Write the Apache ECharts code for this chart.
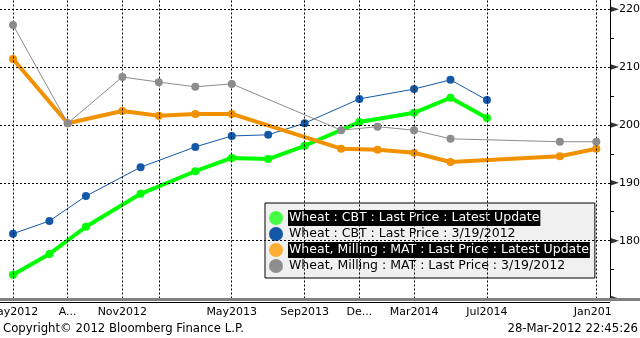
<!DOCTYPE html>
<html>
<head>
<meta charset="utf-8">
<script src="https://cdn.jsdelivr.net/npm/echarts@6/dist/echarts.min.js"></script>
<style>
  html, body { margin: 0; padding: 0; background: #fff; }
  #chart { width: 640px; height: 338px; }
</style>
</head>
<body>
<div id="chart"></div>
<script>
// Contract months (CBT wheat and MATIF milling wheat)
const cbtMonths = ["2012-05","2012-07","2012-09","2012-12","2013-03","2013-05","2013-07","2013-09","2013-12","2014-03","2014-05","2014-07"];
const matMonths = ["2012-05","2012-08","2012-11","2013-01","2013-03","2013-05","2013-11","2014-01","2014-03","2014-05","2014-11","2015-01"];

// Forward curves
const cbtLatest = [174.1,177.7,182.4,188.1,192.0,194.3,194.1,196.4,200.5,202.1,204.7,201.2];
const cbtMar19  = [181.2,183.4,187.7,192.7,196.2,198.1,198.3,200.3,204.5,206.2,207.8,204.3];
const matLatest = [211.4,200.3,202.4,201.6,201.9,201.9,195.9,195.7,195.2,193.6,194.6,195.9];
const matMar19  = [217.3,200.3,208.3,207.4,206.6,207.1,199.1,199.7,199.1,197.6,197.1,197.1];

// Axis ticks
const xTickMonths = ["2012-05","2012-08","2012-11","2013-01","2013-05","2013-09","2013-12","2014-03","2014-07","2015-01"];
const xTickLabels = ["May2012","A...","Nov2012","","May2013","Sep2013","De...","Mar2014","Jul2014","Jan2015"];
const yMajor = [170,180,190,200,210,220];
const yMinor = [175,185,195,205,215];
const yLabels = [180,190,200,210,220];

const seriesNames = [
  "Wheat : CBT : Last Price : Latest Update",
  "Wheat : CBT : Last Price : 3/19/2012",
  "Wheat, Milling : MAT : Last Price : Latest Update",
  "Wheat, Milling : MAT : Last Price : 3/19/2012"
];

// months since Jan 2012
function monthIndex(s) {
  const [y, m] = s.split('-').map(Number);
  return (y - 2012) * 12 + (m - 1);
}
const pair = (months, vals) => months.map((m, i) => [monthIndex(m), vals[i]]);

const X_MIN = 3.287, X_MAX = 36.75;
const FONT = 'DejaVu Sans';
const xTickVals = xTickMonths.map(monthIndex);
const labelOf = {};
xTickVals.forEach((v, i) => { labelOf[v] = xTickLabels[i]; });

const chart = echarts.init(document.getElementById('chart'), null, { renderer: 'canvas' });

const gridLines = [
  ...yLabels.map(v => ({ yAxis: v })),
  ...xTickVals.map(v => ({ xAxis: v }))
];

function lineSeries(name, data, color, width, z) {
  return {
    name, type: 'line', data, z,
    symbol: 'circle', symbolSize: 8, showSymbol: true,
    lineStyle: { color, width },
    itemStyle: { color },
    animation: false
  };
}

chart.setOption({
  animation: false,
  backgroundColor: '#fff',
  grid: { left: 0, right: 30, top: 0, bottom: 39.5, containLabel: false, outerBoundsMode: 'none' },
  xAxis: {
    type: 'value', min: X_MIN, max: X_MAX,
    axisLine: { show: false },
    axisTick: { show: false },
    splitLine: { show: false },
    axisLabel: {
      customValues: xTickVals,
      formatter: v => labelOf[v] ?? '',
      margin: 8, color: '#000', fontSize: 11, fontFamily: FONT,
      hideOverlap: false
    }
  },
  yAxis: {
    type: 'value', position: 'right', min: 170, max: 221.6,
    axisLine: { show: true, lineStyle: { color: '#000', width: 1 } },
    axisTick: { show: true, customValues: yMinor, length: 4, lineStyle: { color: '#000' } },
    splitLine: { show: false },
    axisLabel: {
      customValues: yLabels, margin: 9,
      color: '#000', fontSize: 11, fontFamily: FONT
    }
  },
  legend: {
    orient: 'vertical', left: 265, top: 203,
    padding: [7, 5, 4, 4],
    itemGap: 0, itemWidth: 14, itemHeight: 14,
    backgroundColor: '#f0f0f0', borderColor: '#000', borderWidth: 1,
    icon: 'circle',
    textStyle: { fontSize: 12.5, fontFamily: FONT, color: '#000', padding: [2, 1, 2, 1], lineHeight: 12 },
    data: [
      { name: seriesNames[0], itemStyle: { color: '#44ff44' }, textStyle: { color: '#fff', backgroundColor: '#000' } },
      { name: seriesNames[1], itemStyle: { color: '#1457a6' } },
      { name: seriesNames[2], itemStyle: { color: '#ffad33' }, textStyle: { color: '#fff', backgroundColor: '#000' } },
      { name: seriesNames[3], itemStyle: { color: '#8e8e8e' } }
    ],
    selectedMode: false
  },
  series: [
    Object.assign(lineSeries(seriesNames[0], pair(cbtMonths, cbtLatest), '#00ff00', 4, 2), {
      markLine: {
        silent: true, symbol: 'none', animation: false,
        label: { show: false },
        lineStyle: { color: '#000', width: 1, type: [2, 2] },
        data: gridLines
      }
    }),
    lineSeries(seriesNames[1], pair(cbtMonths, cbtMar19), '#1458a8', 1, 3),
    lineSeries(seriesNames[2], pair(matMonths, matLatest), '#f29100', 4, 4),
    lineSeries(seriesNames[3], pair(matMonths, matMar19), '#8c8c8c', 1, 5),
    {
      // arrow-shaped major ticks on the price axis
      type: 'scatter', silent: true, clip: false, z: 6,
      data: yMajor.map(v => [X_MAX, v]),
      symbol: 'path://M0 0L10 5L0 10Z', symbolSize: [9, 6], symbolOffset: [4.5, 0],
      itemStyle: { color: '#000' }
    }
  ],
  graphic: [
    { type: 'rect', z: 10, shape: { x: 0, y: 298, width: 640, height: 3 }, style: { fill: '#808080' } },
    { type: 'rect', z: 10, shape: { x: 0, y: 302, width: 610, height: 1 }, style: { fill: '#000' } },
    { type: 'rect', z: 10, shape: { x: 611, y: 303, width: 29, height: 18 }, style: { fill: '#fff' } },
    { type: 'text', z: 10, left: 3, top: 323,
      style: { text: 'Copyright\u00a9 2012 Bloomberg Finance L.P.', fill: '#000', font: '11.7px "DejaVu Sans"' } },
    { type: 'text', z: 10, right: 2, top: 323,
      style: { text: '28-Mar-2012 22:45:26', fill: '#000', font: '11.7px "DejaVu Sans"' } }
  ]
});
</script>
</body>
</html>
